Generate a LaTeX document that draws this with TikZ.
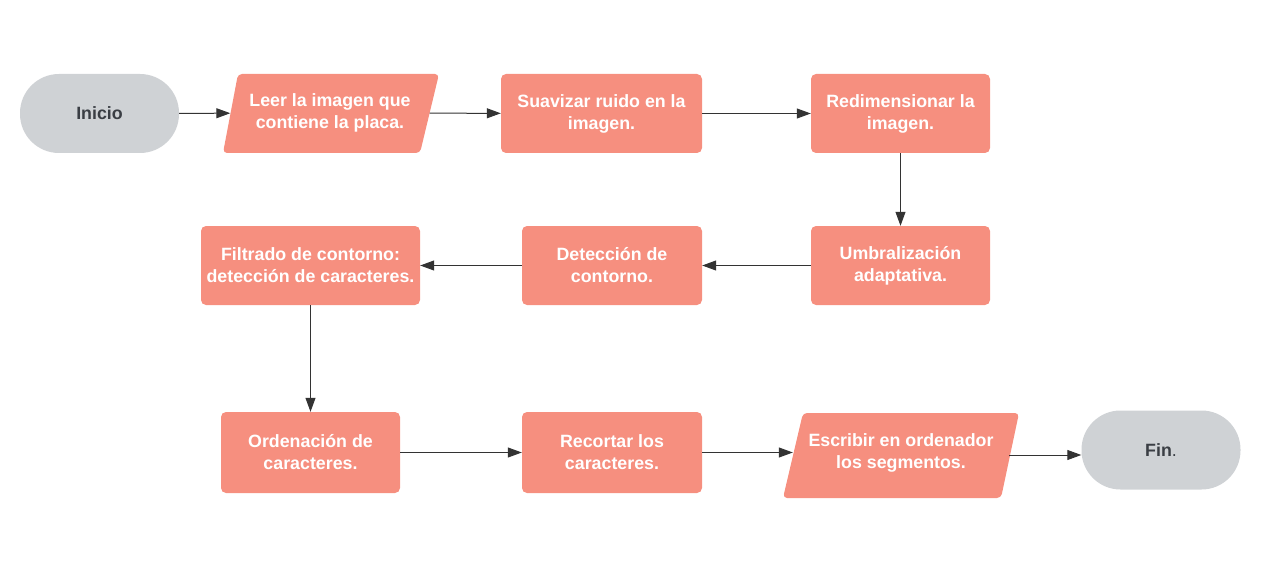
\documentclass[tikz,border=0pt]{standalone}
\usepackage{fontspec}
\setmainfont{Liberation Sans}
\usetikzlibrary{arrows.meta}
\definecolor{salmon}{RGB}{246,143,127}
\definecolor{termgrey}{RGB}{207,210,213}
\definecolor{darktext}{RGB}{58,62,68}
\definecolor{linecol}{RGB}{51,51,51}
\begin{document}
\begin{tikzpicture}[x=1pt,y=-1pt,
  base/.style={align=center, inner sep=0pt, font=\fontsize{17.8}{22}\selectfont\bfseries},
  proc/.style={base, fill=salmon, text=white, rounded corners=5pt},
  term/.style={base, fill=termgrey, text=darktext, rounded corners=39pt, minimum width=159pt, minimum height=79pt},
  io/.style={base, text=white},
  arr/.style={draw=linecol, line width=1pt, -{Triangle[length=14pt,width=10pt]}}
]
\useasboundingbox (0,0) rectangle (1263,580);
% parallelogram backgrounds
\fill[salmon, rounded corners=4pt] (238,74) -- (439,74) -- (420,153) -- (223,153) -- cycle;
\fill[salmon, rounded corners=4pt] (803,413) -- (1019,413) -- (1001,498) -- (783,498) -- cycle;
% nodes
\node[term] (inicio) at (99.5,113.5) {Inicio};
\node[io, minimum width=199pt, minimum height=79pt] (leer) at (330,113) {Leer la imagen que\\contiene la placa.};
\node[proc, minimum width=201pt, minimum height=79pt] (suav) at (601.5,113.5) {Suavizar ruido en la\\imagen.};
\node[proc, minimum width=179pt, minimum height=79pt] (redim) at (900.5,113.5) {Redimensionar la\\imagen.};
\node[proc, minimum width=179pt, minimum height=79pt] (umbral) at (900.5,265.5) {Umbralización\\adaptativa.};
\node[proc, minimum width=180pt, minimum height=79pt] (detec) at (612,265.5) {Detección de\\contorno.};
\node[proc, minimum width=219pt, minimum height=79pt] (filtr) at (310.5,265.5) {Filtrado de contorno:\\detección de caracteres.};
\node[proc, minimum width=179pt, minimum height=81pt] (orden) at (310.5,452.5) {Ordenación de\\caracteres.};
\node[proc, minimum width=180pt, minimum height=81pt] (recor) at (612,452.5) {Recortar los\\caracteres.};
\node[io, minimum width=216pt, minimum height=81pt] (escr) at (901,452.5) {Escribir en ordenador\\los segmentos.};
\node[term] (fin) at (1161,450) {Fin\textmd{.}};
% connectors
\draw[arr] (inicio) -- (leer);
\draw[arr] (leer) -- (suav);
\draw[arr] (suav) -- (redim);
\draw[arr] (redim) -- (umbral);
\draw[arr] (umbral) -- (detec);
\draw[arr] (detec) -- (filtr);
\draw[arr] (filtr) -- (orden);
\draw[arr] (orden) -- (recor);
\draw[arr] (recor) -- (escr);
\draw[arr] ([yshift=-2.5pt]escr.east) -- ([yshift=-2.5pt]escr.east -| fin.west);
\end{tikzpicture}
\end{document}
